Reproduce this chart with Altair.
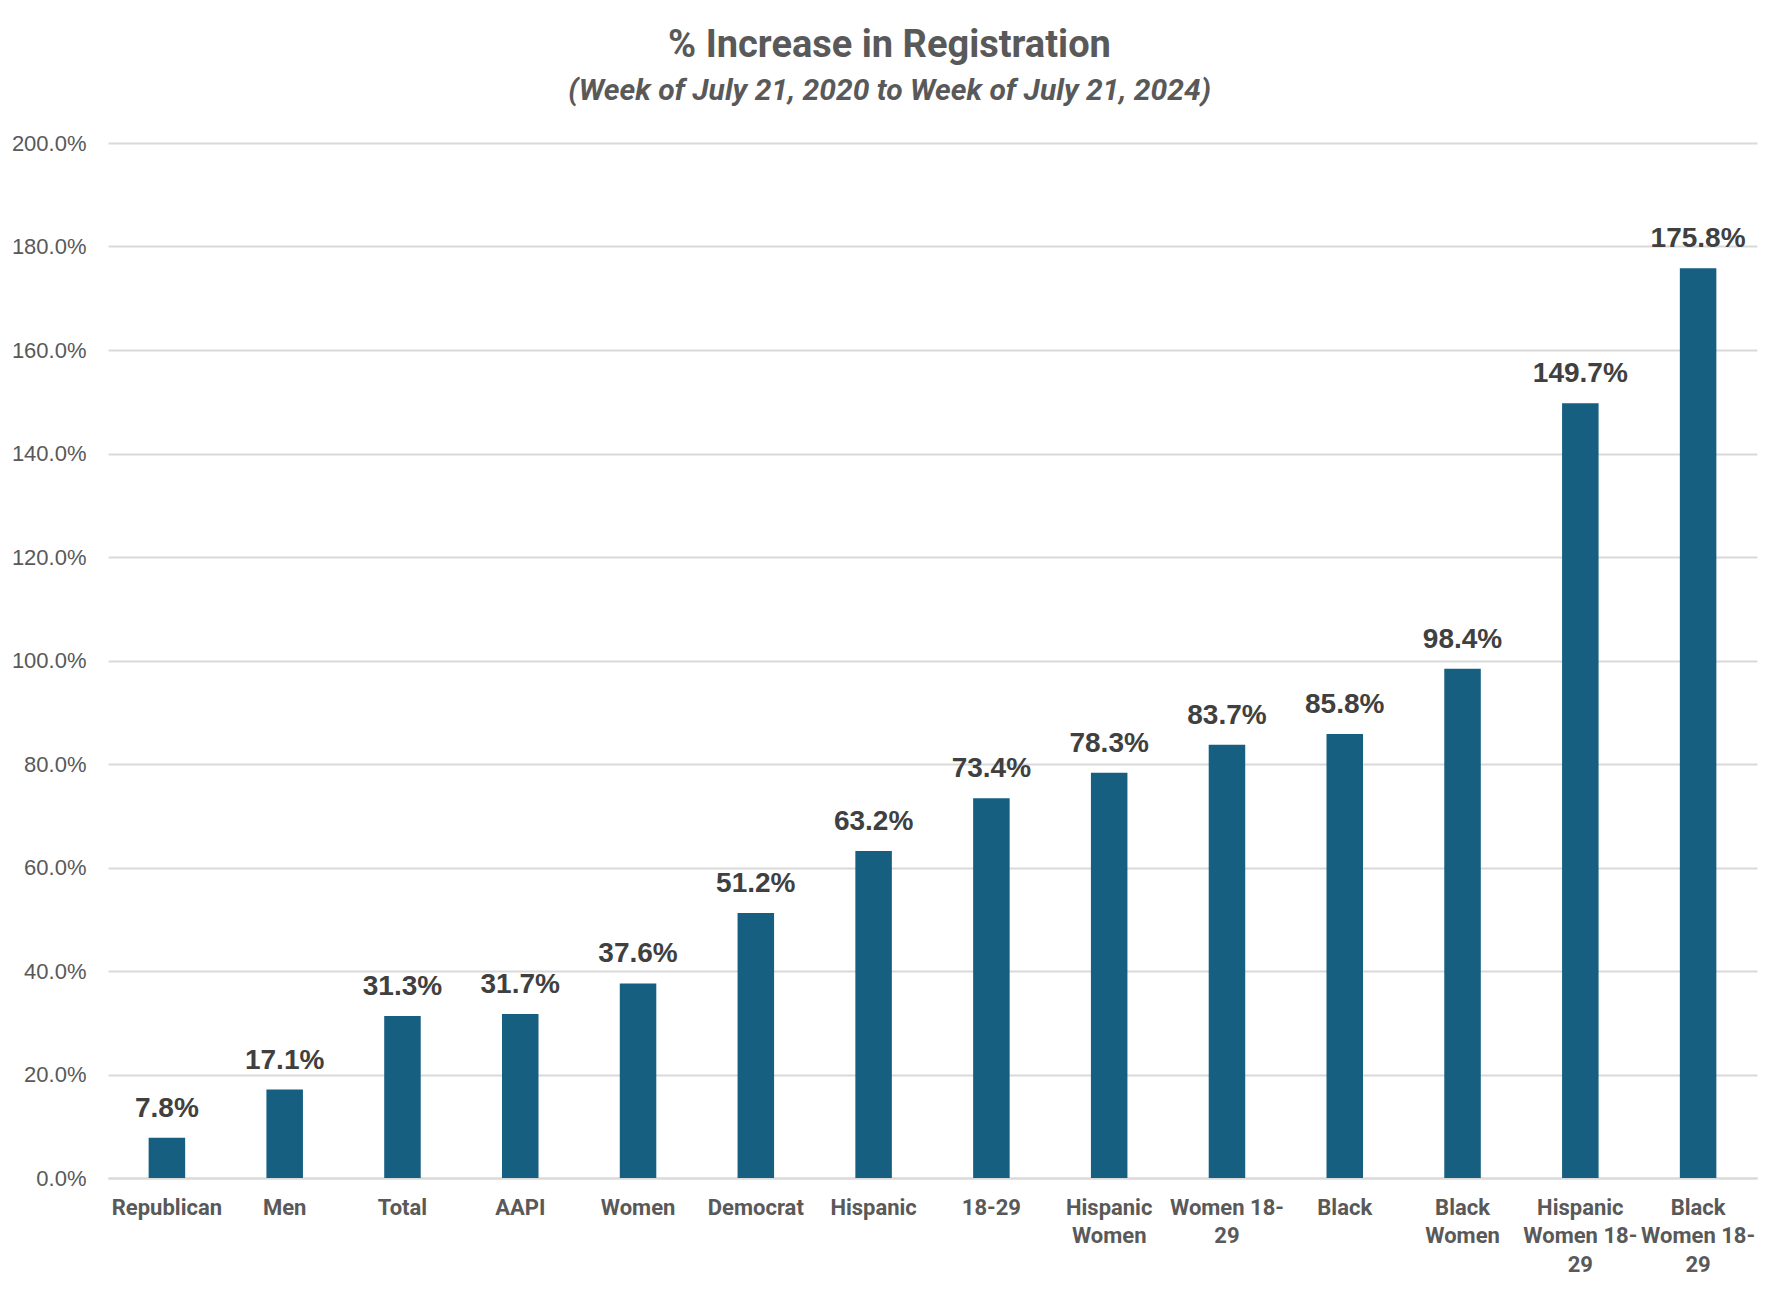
import altair as alt
import pandas as pd

categories = ["Republican", "Men", "Total", "AAPI", "Women", "Democrat", "Hispanic",
              "18-29", "Hispanic Women", "Women 18-29", "Black", "Black Women",
              "Hispanic Women 18-29", "Black Women 18-29"]
values = [7.8, 17.1, 31.3, 31.7, 37.6, 51.2, 63.2, 73.4, 78.3, 83.7, 85.8, 98.4, 149.7, 175.8]
label_lines = {
    "Hispanic Women": ["Hispanic", "Women"],
    "Women 18-29": ["Women 18-", "29"],
    "Black Women": ["Black", "Women"],
    "Hispanic Women 18-29": ["Hispanic", "Women 18-", "29"],
    "Black Women 18-29": ["Black", "Women 18-", "29"],
}
y_ticks = [0, 20, 40, 60, 80, 100, 120, 140, 160, 180, 200]

title_text = "% Increase in Registration"
subtitle_text = "(Week of July 21, 2020 to Week of July 21, 2024)"

df = pd.DataFrame({"category": categories, "value": values})

expr = "datum.label"
for k, v in reversed(list(label_lines.items())):
    arr = "[" + ",".join("'" + s + "'" for s in v) + "]"
    expr = f"datum.label == '{k}' ? {arr} : ({expr})"

NARROW = "Roboto, Liberation Sans Narrow, sans-serif"
REG = "Liberation Sans, Arial, sans-serif"

x = alt.X("category:N", sort=categories, title=None,
          scale=alt.Scale(paddingInner=0.69, paddingOuter=0.345),
          axis=alt.Axis(labelAngle=0, labelExpr=expr, labelFont=NARROW, labelFontSize=22,
                        labelFontWeight="bold", labelColor="#595959", labelPadding=19,
                        labelLineHeight=28.5, labelBaseline="top", ticks=False,
                        domainColor="#D9D9D9", domainWidth=2, labelLimit=200))
y = alt.Y("value:Q", title=None,
          scale=alt.Scale(domain=[0, 200], nice=False),
          axis=alt.Axis(values=y_ticks, labelExpr="format(datum.value, '.1f') + '%'",
                        labelFont=REG, labelFontSize=22, labelColor="#595959",
                        labelPadding=22, ticks=False, domain=False,
                        gridColor="#D9D9D9", gridWidth=2))

bars = alt.Chart(df).mark_bar(color="#165F81").encode(x=x, y=y)
texts = alt.Chart(df).transform_calculate(
    lab="format(datum.value, '.1f') + '%'"
).mark_text(font=REG, fontSize=28, fontWeight="bold", color="#404040",
            baseline="alphabetic", align="center", dy=-21).encode(
    x=alt.X("category:N", sort=categories),
    y=alt.Y("value:Q"),
    text="lab:N")

chart = alt.layer(bars, texts).properties(
    width=1649, height=1035,
    autosize=alt.AutoSizeParams(type="none"),
    padding={"left": 100, "top": 135, "right": 13, "bottom": 104},
    title=alt.TitleParams(
        text=title_text, subtitle=subtitle_text, anchor="middle", dx=-43,
        font=NARROW, fontSize=38, fontWeight="bold", color="#595959",
        subtitleFont=NARROW, subtitleFontSize=30, subtitleFontStyle="italic",
        subtitleFontWeight="bold", subtitleColor="#595959",
        subtitlePadding=11, offset=26),
).configure_view(stroke=None)

chart.save("out.html", embed_options={"renderer": "svg", "actions": False})
